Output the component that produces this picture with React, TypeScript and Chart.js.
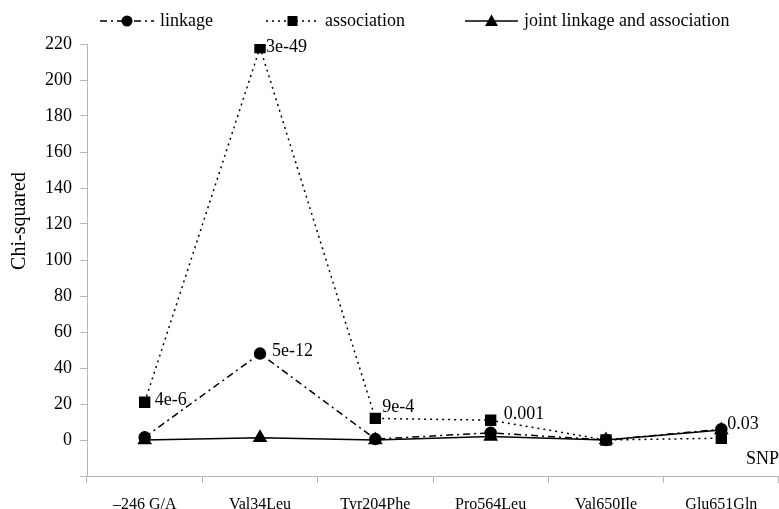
import React, { useEffect, useRef } from "react";
import { Chart, registerables } from "chart.js";

Chart.register(...registerables);

const categories = ["\u2013246 G/A", "Val34Leu", "Tyr204Phe", "Pro564Leu", "Val650Ile", "Glu651Gln"];
const linkage = [1.5, 48, 0.5, 4, 0, 6];
const association = [21, 218, 12, 11, 0, 1];
const joint = [0, 1.3, 0, 2, 0, 5.5];
const seriesNames = ["linkage", "association", "joint linkage and association"];
const yTicksMin = -20;
const yTicksMax = 220;
const yStep = 20;
const yTitle = "Chi-squared";
const xTitle = "SNP";
// p-value annotations: [datasetIndex, pointIndex, text]
const pLabels: [number, number, string][] = [
  [1, 0, "4e-6"],
  [1, 1, "3e-49"],
  [0, 1, "5e-12"],
  [1, 2, "9e-4"],
  [1, 3, "0.001"],
  [0, 5, "0.03"],
];

const SERIF = "'Liberation Serif', 'Times New Roman', serif";

function drawMarker(ctx: CanvasRenderingContext2D, style: string, x: number, y: number) {
  ctx.save();
  ctx.fillStyle = "#000";
  ctx.beginPath();
  if (style === "circle") {
    ctx.arc(x, y, 5.5, 0, Math.PI * 2);
  } else if (style === "rect") {
    ctx.rect(x - 5, y - 5, 10, 10);
  } else {
    ctx.moveTo(x, y - 6.5);
    ctx.lineTo(x + 6.5, y + 5);
    ctx.lineTo(x - 6.5, y + 5);
    ctx.closePath();
  }
  ctx.fill();
  ctx.restore();
}

const overlayPlugin = {
  id: "overlay",
  afterDraw(chart: any) {
    const ctx: CanvasRenderingContext2D = chart.ctx;
    // legend
    const items = [
      { x0: 100, x1: 154, text: seriesNames[0], dash: [7, 4, 2, 4], style: "circle" },
      { x0: 266, x1: 319, text: seriesNames[1], dash: [2, 4], style: "rect" },
      { x0: 465, x1: 518, text: seriesNames[2], dash: [], style: "triangle" },
    ];
    const ly = 21;
    items.forEach((it) => {
      ctx.save();
      ctx.strokeStyle = "#000";
      ctx.lineWidth = 1.5;
      ctx.setLineDash(it.dash);
      ctx.beginPath();
      ctx.moveTo(it.x0, ly);
      ctx.lineTo(it.x1, ly);
      ctx.stroke();
      ctx.restore();
      drawMarker(ctx, it.style, (it.x0 + it.x1) / 2, ly);
      ctx.save();
      ctx.fillStyle = "#000";
      ctx.font = `18px ${SERIF}`;
      ctx.textBaseline = "middle";
      ctx.textAlign = "left";
      ctx.fillText(it.text, it.x1 + 6, ly);
      ctx.restore();
    });
    // p-value labels
    const offsets: Record<string, [number, number]> = {
      "4e-6": [10, -2],
      "3e-49": [6, 0],
      "5e-12": [12, -2],
      "9e-4": [7, -11],
      "0.001": [13, -6],
      "0.03": [6, -5],
    };
    ctx.save();
    ctx.fillStyle = "#000";
    ctx.font = `18px ${SERIF}`;
    ctx.textBaseline = "middle";
    ctx.textAlign = "left";
    pLabels.forEach(([ds, idx, text]) => {
      const pt = chart.getDatasetMeta(ds).data[idx];
      const off = offsets[text] || [8, 0];
      ctx.fillText(text, pt.x + off[0], pt.y + off[1]);
    });
    // SNP axis label
    ctx.textAlign = "right";
    ctx.fillText(xTitle, chart.chartArea.right, chart.chartArea.bottom - 17);
    ctx.restore();
    // y axis title
    ctx.save();
    ctx.fillStyle = "#000";
    ctx.font = `20px ${SERIF}`;
    ctx.textAlign = "center";
    ctx.textBaseline = "middle";
    ctx.translate(20, 221);
    ctx.rotate(-Math.PI / 2);
    ctx.fillText(yTitle, 0, 0);
    ctx.restore();
  },
};

export default function App() {
  const ref = useRef<HTMLCanvasElement | null>(null);
  useEffect(() => {
    if (!ref.current) return;
    const chart = new Chart(ref.current, {
      type: "line",
      data: {
        labels: categories,
        datasets: [
          {
            label: seriesNames[0],
            data: linkage,
            borderColor: "#000",
            backgroundColor: "#000",
            borderWidth: 1.5,
            borderDash: [7, 4, 2, 4],
            pointStyle: "circle",
            pointRadius: 5.5,
            tension: 0,
          },
          {
            label: seriesNames[1],
            data: association,
            borderColor: "#000",
            backgroundColor: "#000",
            borderWidth: 1.5,
            borderDash: [2, 4],
            pointStyle: "rect",
            pointRadius: 7,
            tension: 0,
          },
          {
            label: seriesNames[2],
            data: joint,
            borderColor: "#000",
            backgroundColor: "#000",
            borderWidth: 1.5,
            pointStyle: "triangle",
            pointRadius: 7,
            tension: 0,
          },
        ],
      },
      options: {
        responsive: false,
        animation: false,
        maintainAspectRatio: false,
        layout: { autoPadding: false, padding: { top: 44, left: 0, right: 0, bottom: 0 } },
        plugins: {
          legend: { display: false },
          tooltip: { enabled: false },
        },
        scales: {
          x: {
            type: "category",
            offset: true,
            grid: {
              offset: true,
              drawOnChartArea: false,
              drawTicks: true,
              tickLength: 7,
              color: "#b5b5b5",
            },
            border: { color: "#b5b5b5", width: 1 },
            ticks: {
              color: "#000",
              font: { family: SERIF, size: 16 },
              padding: 12,
              maxRotation: 0,
              autoSkip: false,
            },
            afterFit(scale: any) {
              scale.height = 33;
              scale.paddingLeft = 0;
              scale.paddingRight = 0;
            },
          },
          y: {
            min: yTicksMin,
            max: yTicksMax,
            grid: {
              drawOnChartArea: false,
              drawTicks: true,
              tickLength: 7,
              color: "#b5b5b5",
            },
            border: { color: "#b5b5b5", width: 1 },
            ticks: {
              stepSize: yStep,
              color: "#000",
              font: { family: SERIF, size: 18 },
              padding: 8,
              callback: (v: any) => (Number(v) < 0 ? "" : String(v)),
            },
            afterFit(scale: any) {
              scale.width = 87;
            },
          },
        },
      },
      plugins: [overlayPlugin],
    });
    return () => chart.destroy();
  }, []);
  return (
    <div style={{ position: "fixed", left: 0, top: 0, width: 779, height: 509, background: "#fff" }}>
      <canvas ref={ref} width={779} height={509} style={{ display: "block" }} />
    </div>
  );
}
